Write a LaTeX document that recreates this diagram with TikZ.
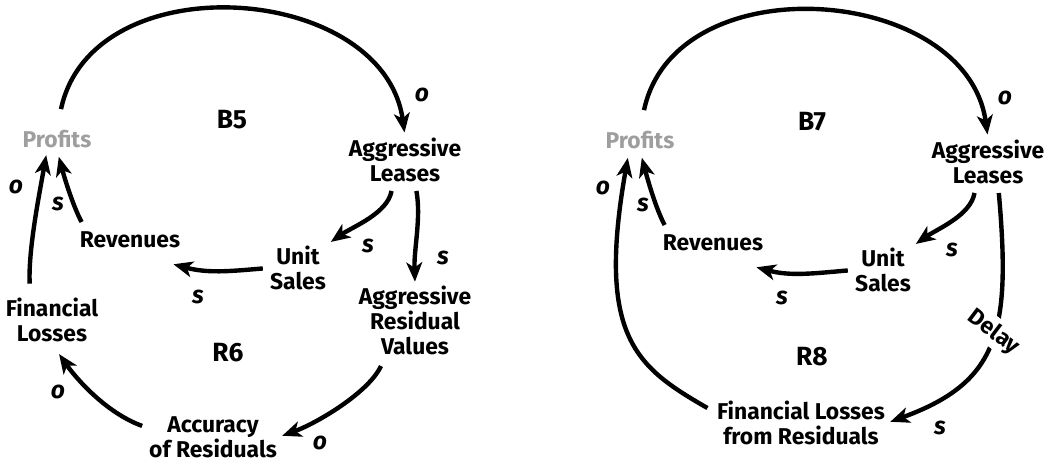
\documentclass[tikz,border=0pt]{standalone}
\usepackage{fontspec}
\setmainfont{Fira Sans}
\usepackage{xcolor}
\usepackage{tikz}
\usetikzlibrary{arrows.meta}

\begin{document}
\begin{tikzpicture}[
    x=0.02cm, y=0.02cm,
    vnode/.style={font=\fontsize{13}{14.2}\selectfont\bfseries,align=center,inner sep=1pt},
    pol/.style={font=\fontsize{14}{14}\selectfont\bfseries\itshape,inner sep=0pt},
    lname/.style={font=\fontsize{15}{15}\selectfont\bfseries,inner sep=0pt},
    dlbl/.style={font=\fontsize{13}{13}\selectfont\bfseries,fill=white,inner sep=2pt,rotate=-37},
    link/.style={line width=2.5pt,-{Stealth[length=11pt,width=9pt,inset=3pt]}}
  ]
    \useasboundingbox (0,0) rectangle (1050,462);
    % left pair of loops
    \node[vnode,text=black!38] (prof1) at (57,323) {Profits};
    \node[vnode] (agl1) at (405,302) {Aggressive\\Leases};
    \node[vnode] (rev1) at (130,222) {Revenues};
    \node[vnode] (us1) at (298,194) {Unit\\Sales};
    \node[vnode] (arv1) at (415,142) {Aggressive\\Residual\\Values};
    \node[vnode] (fl1) at (52,142) {Financial\\Losses};
    \node[vnode] (acc1) at (213,25) {Accuracy\\of Residuals};
    \node[lname] (b5) at (232,342) {B5};
    \node[lname] (r6) at (228,109) {R6};
    \draw[link,shorten <=11pt,shorten >=2pt] (prof1.north) .. controls +(78:170) and +(98:155) .. (agl1.north);
    \draw[link,shorten <=5pt,shorten >=4pt] (rev1.167) .. controls +(118:28) and +(-75:28) .. (prof1.south);
    \draw[link,shorten <=7pt,shorten >=3pt] (fl1.132) .. controls +(93:45) and +(-100:45) .. (prof1.228);
    \draw[link,shorten <=4pt,shorten >=2pt] (agl1.243) .. controls +(-100:30) and +(35:30) .. (us1.north east);
    \draw[link,shorten <=4pt,shorten >=1pt] (agl1.293) .. controls +(-80:35) and +(92:35) .. (arv1.north);
    \draw[link,shorten <=3pt] (us1.west) .. controls +(185:40) and +(-15:35) .. ([shift={(-5pt,-8pt)}]rev1.south east);
    \draw[link,shorten <=6pt,shorten >=2pt] (arv1.231) .. controls +(-115:40) and +(20:40) .. (acc1.east);
    \draw[link,shorten <=3pt,shorten >=7pt] (acc1.172) .. controls +(160:45) and +(-55:40) .. (fl1.south);
    \node[pol] (p1) at (422,367) {o};
    \node[pol] (p2) at (16,275) {o};
    \node[pol] (p3) at (58,258) {s};
    \node[pol] (p4) at (368,216) {s};
    \node[pol] (p5) at (443,204) {s};
    \node[pol] (p6) at (198,165) {s};
    \node[pol] (p7) at (320,19) {o};
    \node[pol] (p8) at (58,70) {o};
    % right pair of loops
    \node[vnode,text=black!38] (prof2) at (640,322) {Profits};
    \node[vnode] (agl2) at (988,300) {Aggressive\\Leases};
    \node[vnode] (rev2) at (713,219) {Revenues};
    \node[vnode] (us2) at (883,192) {Unit\\Sales};
    \node[vnode] (flr2) at (801,39) {Financial Losses\\from Residuals};
    \node[lname] (b7) at (812,340) {B7};
    \node[lname] (r8) at (812,105) {R8};
    \draw[link,shorten <=11pt,shorten >=2pt] (prof2.north) .. controls +(78:170) and +(98:155) .. (agl2.north);
    \draw[link,shorten <=5pt,shorten >=4pt] (rev2.167) .. controls +(118:28) and +(-75:28) .. (prof2.south);
    \draw[link,shorten <=5pt,shorten >=4pt] (flr2.173) .. controls +(150:90) and +(-100:190) .. (prof2.225);
    \draw[link,shorten <=4pt,shorten >=2pt] (agl2.243) .. controls +(-100:30) and +(35:30) .. (us2.north east);
    \draw[link,shorten <=3pt] (us2.west) .. controls +(185:40) and +(-15:35) .. ([shift={(-5pt,-8pt)}]rev2.south east);
    \draw[link,shorten <=4pt,shorten >=2pt] (agl2.293) .. controls +(-85:145) and +(20:120) .. node[dlbl,pos=0.45] {Delay} (flr2.east);
    \node[pol] (q1) at (1005,364) {o};
    \node[pol] (q2) at (603,274) {o};
    \node[pol] (q3) at (643,257) {s};
    \node[pol] (q4) at (952,212) {s};
    \node[pol] (q5) at (782,164) {s};
    \node[pol] (q6) at (940,34) {s};
  \end{tikzpicture}
\end{document}
